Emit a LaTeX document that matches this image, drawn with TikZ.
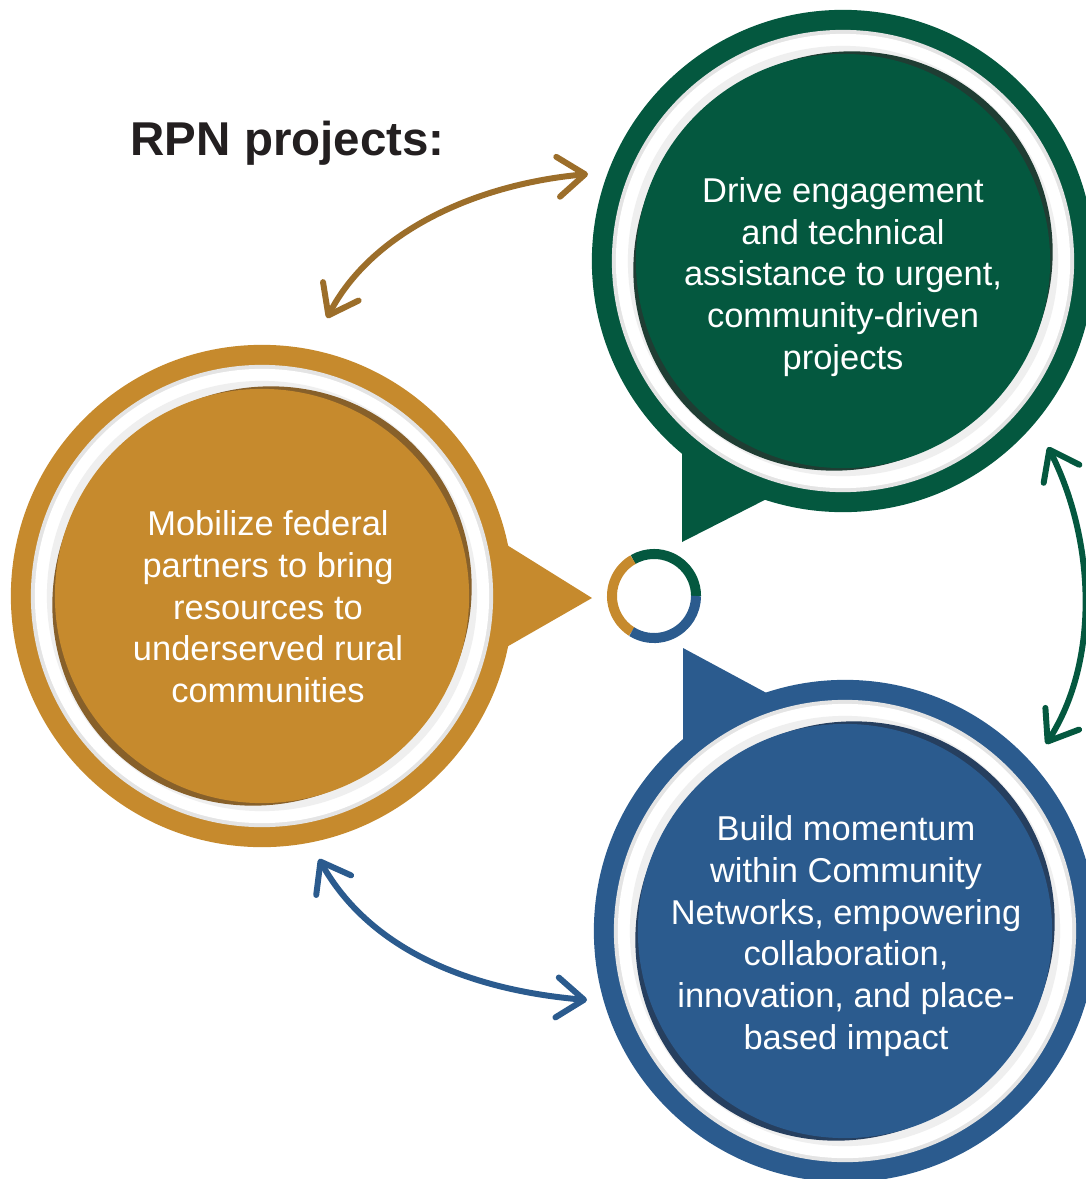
\documentclass[tikz,border=0pt]{standalone}
\usepackage{fontspec}
\setmainfont{Liberation Sans}
\usetikzlibrary{arrows.meta}
\definecolor{rpngreen}{HTML}{04583F}
\definecolor{rpngreendark}{HTML}{1F3D33}
\definecolor{rpngold}{HTML}{C68A2D}
\definecolor{rpngolddark}{HTML}{87602A}
\definecolor{rpnblue}{HTML}{2B5B8E}
\definecolor{rpnbluedark}{HTML}{263F5F}
\definecolor{rpnarrowgold}{HTML}{9C6E2A}
\definecolor{ringgrey}{HTML}{E4E4E4}
\definecolor{titleblack}{HTML}{231F20}
\tikzset{
  bubble/.style={circle, inner sep=0pt, minimum size=5.02cm},
  bubbletext/.style={text=white, align=center, font=\fontsize{9.8}{11.85}\selectfont},
  link/.style={line width=1.7pt, {Straight Barb[length=0.27cm,width=0.4cm,round]}-{Straight Barb[length=0.27cm,width=0.4cm,round]}},
  hubarc/.style={line width=0.1cm}
}
\begin{document}
\begin{tikzpicture}[x=0.01cm, y=-0.01cm]
    \useasboundingbox (0,0) rectangle (1086,1179);
    \clip (0,0) rectangle (1086,1179);
    \fill[white] (0,0) rectangle (1086,1179);
    \node[anchor=base west, inner sep=0pt, text=titleblack, font=\fontsize{13.5}{16}\selectfont\bfseries] (title) at (130,156) {RPN projects:};
    % green bubble
    \fill[rpngreen] (682,440) -- (682,542) -- (800,482) -- cycle;
    \node[bubble, fill=rpngreen] (green) at (843,261) {};
    \fill[ringgrey] (green) circle (2.31cm);
    \fill[white] (green) circle (2.27cm);
    \fill[ringgrey!60] (green) circle (2.15cm);
    \fill[rpngreendark, rotate around={45:(green)}] (green) ellipse [x radius=2.14cm, y radius=2.05cm];
    \fill[rpngreen] (green) circle (2.07cm);
    \node[bubbletext] (greentext) at (843,277) {Drive engagement\\and technical\\assistance to urgent,\\community-driven\\projects};
    % gold bubble
    \fill[rpngold] (470,522) -- (592,598) -- (470,668) -- cycle;
    \node[bubble, fill=rpngold] (gold) at (262,596) {};
    \fill[ringgrey] (gold) circle (2.31cm);
    \fill[white] (gold) circle (2.27cm);
    \fill[ringgrey!60] (gold) circle (2.15cm);
    \fill[rpngolddark, rotate around={45:(gold)}] (gold) ellipse [x radius=2.14cm, y radius=2.05cm];
    \fill[rpngold] (gold) circle (2.07cm);
    \node[bubbletext] (goldtext) at (268,607) {Mobilize federal\\partners to bring\\resources to\\underserved rural\\communities};
    % blue bubble
    \fill[rpnblue] (683,648) -- (683,760) -- (800,711) -- cycle;
    \node[bubble, fill=rpnblue] (blue) at (845,931) {};
    \fill[ringgrey] (blue) circle (2.31cm);
    \fill[white] (blue) circle (2.27cm);
    \fill[ringgrey!60] (blue) circle (2.15cm);
    \fill[rpnbluedark, rotate around={45:(blue)}] (blue) ellipse [x radius=2.14cm, y radius=2.05cm];
    \fill[rpnblue] (blue) circle (2.07cm);
    \node[bubbletext] (bluetext) at (846,936) {Build momentum\\within Community\\Networks, empowering\\collaboration,\\innovation, and place-\\based impact};
    % hub ring
    \coordinate (hub) at (654,596);
    \draw[hubarc, rpngreen] ([shift={(0:0.42cm)}]hub) arc[start angle=0, end angle=120, radius=0.42cm];
    \draw[hubarc, rpngold] ([shift={(120:0.42cm)}]hub) arc[start angle=120, end angle=238, radius=0.42cm];
    \draw[hubarc, rpnblue] ([shift={(238:0.42cm)}]hub) arc[start angle=238, end angle=360, radius=0.42cm];
    % arrows
    \coordinate (goldend) at (588,174);
    \coordinate (goldstart) at (327,318);
    \coordinate (greenstart) at (1048,447);
    \coordinate (greenend) at (1046,744);
    \coordinate (bluestart) at (319,859);
    \coordinate (blueend) at (587,1000);
    \draw[link, rpnarrowgold] (goldstart) .. controls (370,235) and (470,185) .. (goldend);
    \draw[link, rpngreen] (greenstart) .. controls (1095,540) and (1100,660) .. (greenend);
    \draw[link, rpnblue] (bluestart) .. controls (370,950) and (470,990) .. (blueend);
\end{tikzpicture}
\end{document}
